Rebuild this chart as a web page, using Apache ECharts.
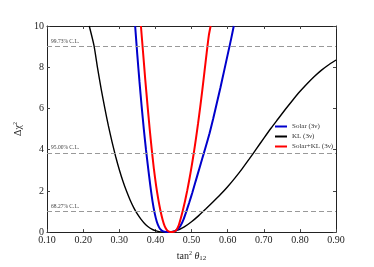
<!DOCTYPE html>
<html><head><meta charset="utf-8">
<script src="https://cdn.jsdelivr.net/npm/echarts@6/dist/echarts.min.js"></script>
<style>html,body{margin:0;padding:0;background:#fff}#c{width:374px;height:267px}</style>
</head><body><div id="c"></div>
<script>
// tan^2 theta12 (x) vs delta chi^2 (y)
var solarX = [0.344,0.350,0.356,0.362,0.368,0.374,0.380,0.386,0.392,0.398,0.404,0.410,0.416,0.422,0.430,0.438,0.446,0.454,0.462,0.470,0.478,0.486,0.494,0.502,0.510,0.518,0.526,0.534,0.542,0.550,0.560,0.570,0.580,0.590,0.600,0.610,0.617];
var solarY = [10,8.6,7.3,6.1,5.0,4.0,3.1,2.25,1.5,0.92,0.5,0.24,0.1,0.035,0.006,0,0.01,0.05,0.14,0.32,0.62,1.02,1.45,1.9,2.38,2.86,3.34,3.82,4.3,4.8,5.5,6.25,7.0,7.8,8.6,9.4,10];
var klX = [0.217,0.23,0.24,0.25,0.26,0.27,0.28,0.29,0.30,0.31,0.32,0.33,0.34,0.35,0.36,0.37,0.38,0.39,0.40,0.41,0.42,0.428,0.44,0.46,0.48,0.50,0.52,0.54,0.56,0.58,0.60,0.62,0.64,0.66,0.68,0.70,0.72,0.74,0.76,0.78,0.80,0.82,0.84,0.86,0.88,0.90];
var klY = [10,9.06,7.96,6.94,6.01,5.15,4.38,3.67,3.04,2.48,1.99,1.56,1.19,0.88,0.63,0.42,0.26,0.146,0.068,0.023,0.004,0,0.01,0.08,0.25,0.5,0.8,1.13,1.47,1.82,2.2,2.62,3.07,3.55,4.05,4.55,5.04,5.5,5.96,6.4,6.82,7.2,7.55,7.86,8.12,8.35];
var combX = [0.360,0.366,0.372,0.378,0.384,0.390,0.396,0.402,0.408,0.414,0.420,0.426,0.432,0.438,0.445,0.452,0.458,0.464,0.470,0.476,0.482,0.488,0.494,0.500,0.506,0.512,0.518,0.524,0.530,0.536,0.542,0.548,0.553];
var combY = [10,8.7,7.4,6.2,5.05,4.0,3.05,2.25,1.6,1.05,0.6,0.28,0.1,0.02,0,0.02,0.1,0.3,0.65,1.05,1.5,2.0,2.55,3.15,3.8,4.5,5.25,6.05,6.9,7.8,8.7,9.55,10];
var clLevels = [1.0,3.84,9.0];
var clLabels = ['68.27% C.L.','95.00% C.L.','99.73% C.L.'];
var names = ['Solar (3\u03bd)','KL (3\u03bd)','Solar+KL (3\u03bd)'];
var colors = ['#0000cc','#000000','#ff0000'];

function pairs(xs, ys){ return xs.map(function(x,i){return [x, ys[i]];}); }
var serif = '"Liberation Serif","DejaVu Serif",serif';
var chart = echarts.init(document.getElementById('c'), null, {renderer:'canvas'});
var axBase = {
  min: 0.1, max: 0.9, interval: 0.1, type:'value',
  axisLine:{show:true, onZero:false, lineStyle:{color:'#222', width:1}},
  axisTick:{show:true, inside:true, length:3, lineStyle:{color:'#444'}},
  splitLine:{show:false}
};
var option = {
  animation:false,
  grid:{left:47, right:38, top:26, bottom:27, containLabel:false},
  legend:{
    orient:'vertical', left:270, top:118, itemWidth:12, itemHeight:2, itemGap:3,
    icon:'rect',
    textStyle:{fontFamily:serif, fontSize:7, color:'#333'},
    data: names
  },
  xAxis:[
    Object.assign({}, axBase, {
      position:'bottom',
      name:'{a|tan}{s|2}{a| }{i|\u03b8}{b|12}',
      nameLocation:'middle', nameGap:17,
      nameTextStyle:{rich:{
        a:{fontFamily:serif, fontSize:10, color:'#222'},
        s:{fontFamily:serif, fontSize:6, color:'#222', verticalAlign:'top', padding:[0,0,6,0]},
        i:{fontFamily:serif, fontSize:10, fontStyle:'italic', color:'#222'},
        b:{fontFamily:serif, fontSize:7, color:'#222', padding:[5,0,0,0]}
      }},
      axisLabel:{fontFamily:serif, fontSize:10, color:'#222', margin:3,
        formatter:function(v){return v.toFixed(2);}}
    }),
    Object.assign({}, axBase, {position:'top', axisLabel:{show:false}})
  ],
  yAxis:[
    {type:'value', min:0, max:10, interval:2, position:'left',
     axisLine:{show:true, onZero:false, lineStyle:{color:'#222', width:1}},
     axisTick:{show:true, inside:true, length:3, lineStyle:{color:'#444'}},
     splitLine:{show:false},
     axisLabel:{fontFamily:serif, fontSize:10, color:'#222', margin:3},
     name:'{a|\u0394\u03c7}{s|2}', nameLocation:'middle', nameGap:12, nameRotate:90,
     nameTextStyle:{rich:{
       a:{fontFamily:serif, fontSize:10, color:'#222'},
       s:{fontFamily:serif, fontSize:6, color:'#222', padding:[0,0,6,0]}
     }}},
    {type:'value', min:0, max:10, interval:2, position:'right',
     axisLine:{show:true, onZero:false, lineStyle:{color:'#222', width:1}},
     axisTick:{show:true, inside:true, length:3, lineStyle:{color:'#444'}},
     splitLine:{show:false}, axisLabel:{show:false}}
  ],
  series:[
    {name:names[0], type:'line', data:pairs(solarX, solarY), smooth:0.2,
     symbol:'none', lineStyle:{color:colors[0], width:2}, itemStyle:{color:colors[0]}, z:3,
     markLine:{silent:true, symbol:'none',
       lineStyle:{color:'#999', type:[5,3], width:1},
       label:{show:true, position:'insideStartTop', distance:[4,2], fontFamily:serif, fontSize:5.5, color:'#444',
         formatter:function(p){return clLabels[clLevels.indexOf(p.value)];}},
       data: clLevels.map(function(v){return {yAxis:v};})
     }},
    {name:names[1], type:'line', data:pairs(klX, klY), smooth:0.2,
     symbol:'none', lineStyle:{color:colors[1], width:1.4}, itemStyle:{color:colors[1]}, z:2},
    {name:names[2], type:'line', data:pairs(combX, combY), smooth:0.2,
     symbol:'none', lineStyle:{color:colors[2], width:2}, itemStyle:{color:colors[2]}, z:4}
  ]
};
chart.setOption(option);
</script></body></html>
